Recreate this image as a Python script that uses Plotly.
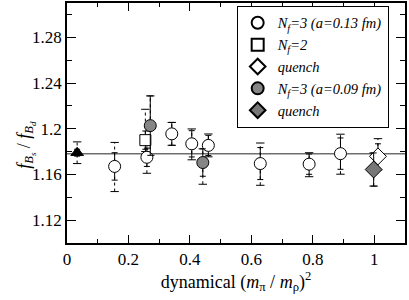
import plotly.graph_objects as go

# ---- data ----
circ13_x = [0.155, 0.26, 0.341, 0.406, 0.46, 0.629, 0.788, 0.89]
circ13_y = [1.167, 1.175, 1.1955, 1.1868, 1.1854, 1.1695, 1.169, 1.1782]
circ13_stat = [0.012, 0.008, 0.010, 0.0115, 0.0088, 0.014, 0.0089, 0.0137]
circ13_sys_up = [0.021, 0.013, 0.010, 0.013, 0.010, 0.018, 0.010, 0.017]
circ13_sys_dn = [0.022, 0.014, 0.010, 0.014, 0.010, 0.019, 0.011, 0.018]

sq2_x = [0.255]
sq2_y = [1.19]
sq2_stat = [0.008]
sq2_sys_up = [0.027]
sq2_sys_dn = [0.010]

dq13_x = [1.012]
dq13_y = [1.1758]
dq13_stat = [0.011]
dq13_sys_up = [0.0155]
dq13_sys_dn = [0.012]

gc09_x = [0.271, 0.442]
gc09_y = [1.2027, 1.1704]
gc09_stat = [0.026, 0.012]
gc09_sys_up = [0.026, 0.012]
gc09_sys_dn = [0.026, 0.019]

gd09_x = [0.998]
gd09_y = [1.1643]
gd09_stat = [0.0145]
gd09_sys_up = [0.0145]
gd09_sys_dn = [0.0145]

tri_x = [0.033]
tri_y = [1.179]
tri_stat = [0.003]
tri_sys_up = [0.0095]
tri_sys_dn = [0.0095]

fit_value = 1.178

x_ticks = [0, 0.2, 0.4, 0.6, 0.8, 1.0]
x_ticklabels = ["0", "0.2", "0.4", "0.6", "0.8", "1"]
y_ticks = [1.12, 1.16, 1.2, 1.24, 1.28]
y_ticklabels = ["1.12", "1.16", "1.2", "1.24", "1.28"]

legend_names = ["<i>N<sub>f</sub>=3 (a=0.13 fm)</i>", "<i>N<sub>f</sub>=2</i>", "<i>quench</i>",
                "<i>N<sub>f</sub>=3 (a=0.09 fm)</i>", "<i>quench</i>"]

FONT = "Liberation Serif"

fig = go.Figure()

fig.add_shape(type="line", xref="paper", x0=0, x1=1, yref="y", y0=fit_value, y1=fit_value,
              line=dict(color="#6e6e6e", width=1.5), layer="below")


def dotted_bars(xs, ys, up, dn):
    lx, ly, cx, cy = [], [], [], []
    for x, y, u, d in zip(xs, ys, up, dn):
        lx += [x, x, None]
        ly += [y - d, y + u, None]
        cx += [x, x]
        cy += [y - d, y + u]
    fig.add_trace(go.Scatter(x=lx, y=ly, mode="lines", showlegend=False, hoverinfo="skip",
                             line=dict(color="black", width=1, dash="dot")))
    fig.add_trace(go.Scatter(x=cx, y=cy, mode="markers", showlegend=False, hoverinfo="skip",
                             marker=dict(symbol="line-ew", size=6, line=dict(color="black", width=1))))


for xs, ys, u, d in [(circ13_x, circ13_y, circ13_sys_up, circ13_sys_dn),
                     (sq2_x, sq2_y, sq2_sys_up, sq2_sys_dn),
                     (dq13_x, dq13_y, dq13_sys_up, dq13_sys_dn),
                     (gc09_x, gc09_y, gc09_sys_up, gc09_sys_dn),
                     (gd09_x, gd09_y, gd09_sys_up, gd09_sys_dn),
                     (tri_x, tri_y, tri_sys_up, tri_sys_dn)]:
    dotted_bars(xs, ys, u, d)


def err(arr):
    return dict(type="data", array=arr, thickness=1, width=3, color="black")


fig.add_trace(go.Scatter(x=tri_x, y=tri_y, mode="markers", showlegend=False, error_y=err(tri_stat),
                         marker=dict(symbol="triangle-up", size=11, color="black",
                                     line=dict(color="black", width=1))))
fig.add_trace(go.Scatter(x=circ13_x, y=circ13_y, mode="markers", name=legend_names[0],
                         error_y=err(circ13_stat),
                         marker=dict(symbol="circle", size=12, color="white",
                                     line=dict(color="black", width=1))))
fig.add_trace(go.Scatter(x=sq2_x, y=sq2_y, mode="markers", name=legend_names[1],
                         error_y=err(sq2_stat),
                         marker=dict(symbol="square", size=11, color="white",
                                     line=dict(color="black", width=1))))
fig.add_trace(go.Scatter(x=dq13_x, y=dq13_y, mode="markers", name=legend_names[2],
                         error_y=err(dq13_stat),
                         marker=dict(symbol="diamond", size=13, color="white",
                                     line=dict(color="black", width=1))))
fig.add_trace(go.Scatter(x=gc09_x, y=gc09_y, mode="markers", name=legend_names[3],
                         error_y=err(gc09_stat),
                         marker=dict(symbol="circle", size=12, color="#858585",
                                     line=dict(color="black", width=1))))
fig.add_trace(go.Scatter(x=gd09_x, y=gd09_y, mode="markers", name=legend_names[4],
                         error_y=err(gd09_stat),
                         marker=dict(symbol="diamond", size=13, color="#777777",
                                     line=dict(color="black", width=1))))

axis_common = dict(showgrid=False, zeroline=False, showline=True, linecolor="black", linewidth=1.5,
                   mirror="ticks", ticks="inside", tickcolor="black", tickwidth=1,
                   tickfont=dict(family=FONT, size=17, color="black"))

fig.update_xaxes(range=[0, 1.1], tickvals=x_ticks, ticktext=x_ticklabels, ticklen=8,
                 minor=dict(ticks="inside", dtick=0.1, ticklen=4, tickcolor="black"),
                 title=dict(text="dynamical (<i>m</i><sub>π</sub> / <i>m</i><sub>ρ</sub>)<sup>2</sup>",
                            font=dict(family=FONT, size=18, color="black"), standoff=4),
                 **axis_common)
fig.update_yaxes(range=[1.10, 1.31], tickvals=y_ticks, ticktext=y_ticklabels, ticklen=9,
                 minor=dict(ticks="inside", dtick=0.02, tick0=1.10, ticklen=5, tickcolor="black"),
                 **axis_common)

fig.add_annotation(text="<i>f</i><sub><i>B<sub>s</sub></i></sub> / <i>f</i><sub><i>B<sub>d</sub></i></sub>",
                   xref="paper", yref="paper", x=-0.165, y=0.41, textangle=-90, showarrow=False,
                   font=dict(family=FONT, size=18, color="black"))

fig.update_layout(
    width=409, height=300,
    margin=dict(l=67, r=4, t=1, b=57),
    plot_bgcolor="white", paper_bgcolor="white",
    showlegend=True,
    legend=dict(x=0.502, y=0.988, xanchor="left", yanchor="top",
                bgcolor="white", bordercolor="black", borderwidth=1,
                font=dict(family=FONT, size=14.5, color="black"),
                tracegroupgap=0, itemsizing="constant"),
)

fig.write_html("out.html", config={"displayModeBar": False},
               post_script="document.body.style.margin='0';")
